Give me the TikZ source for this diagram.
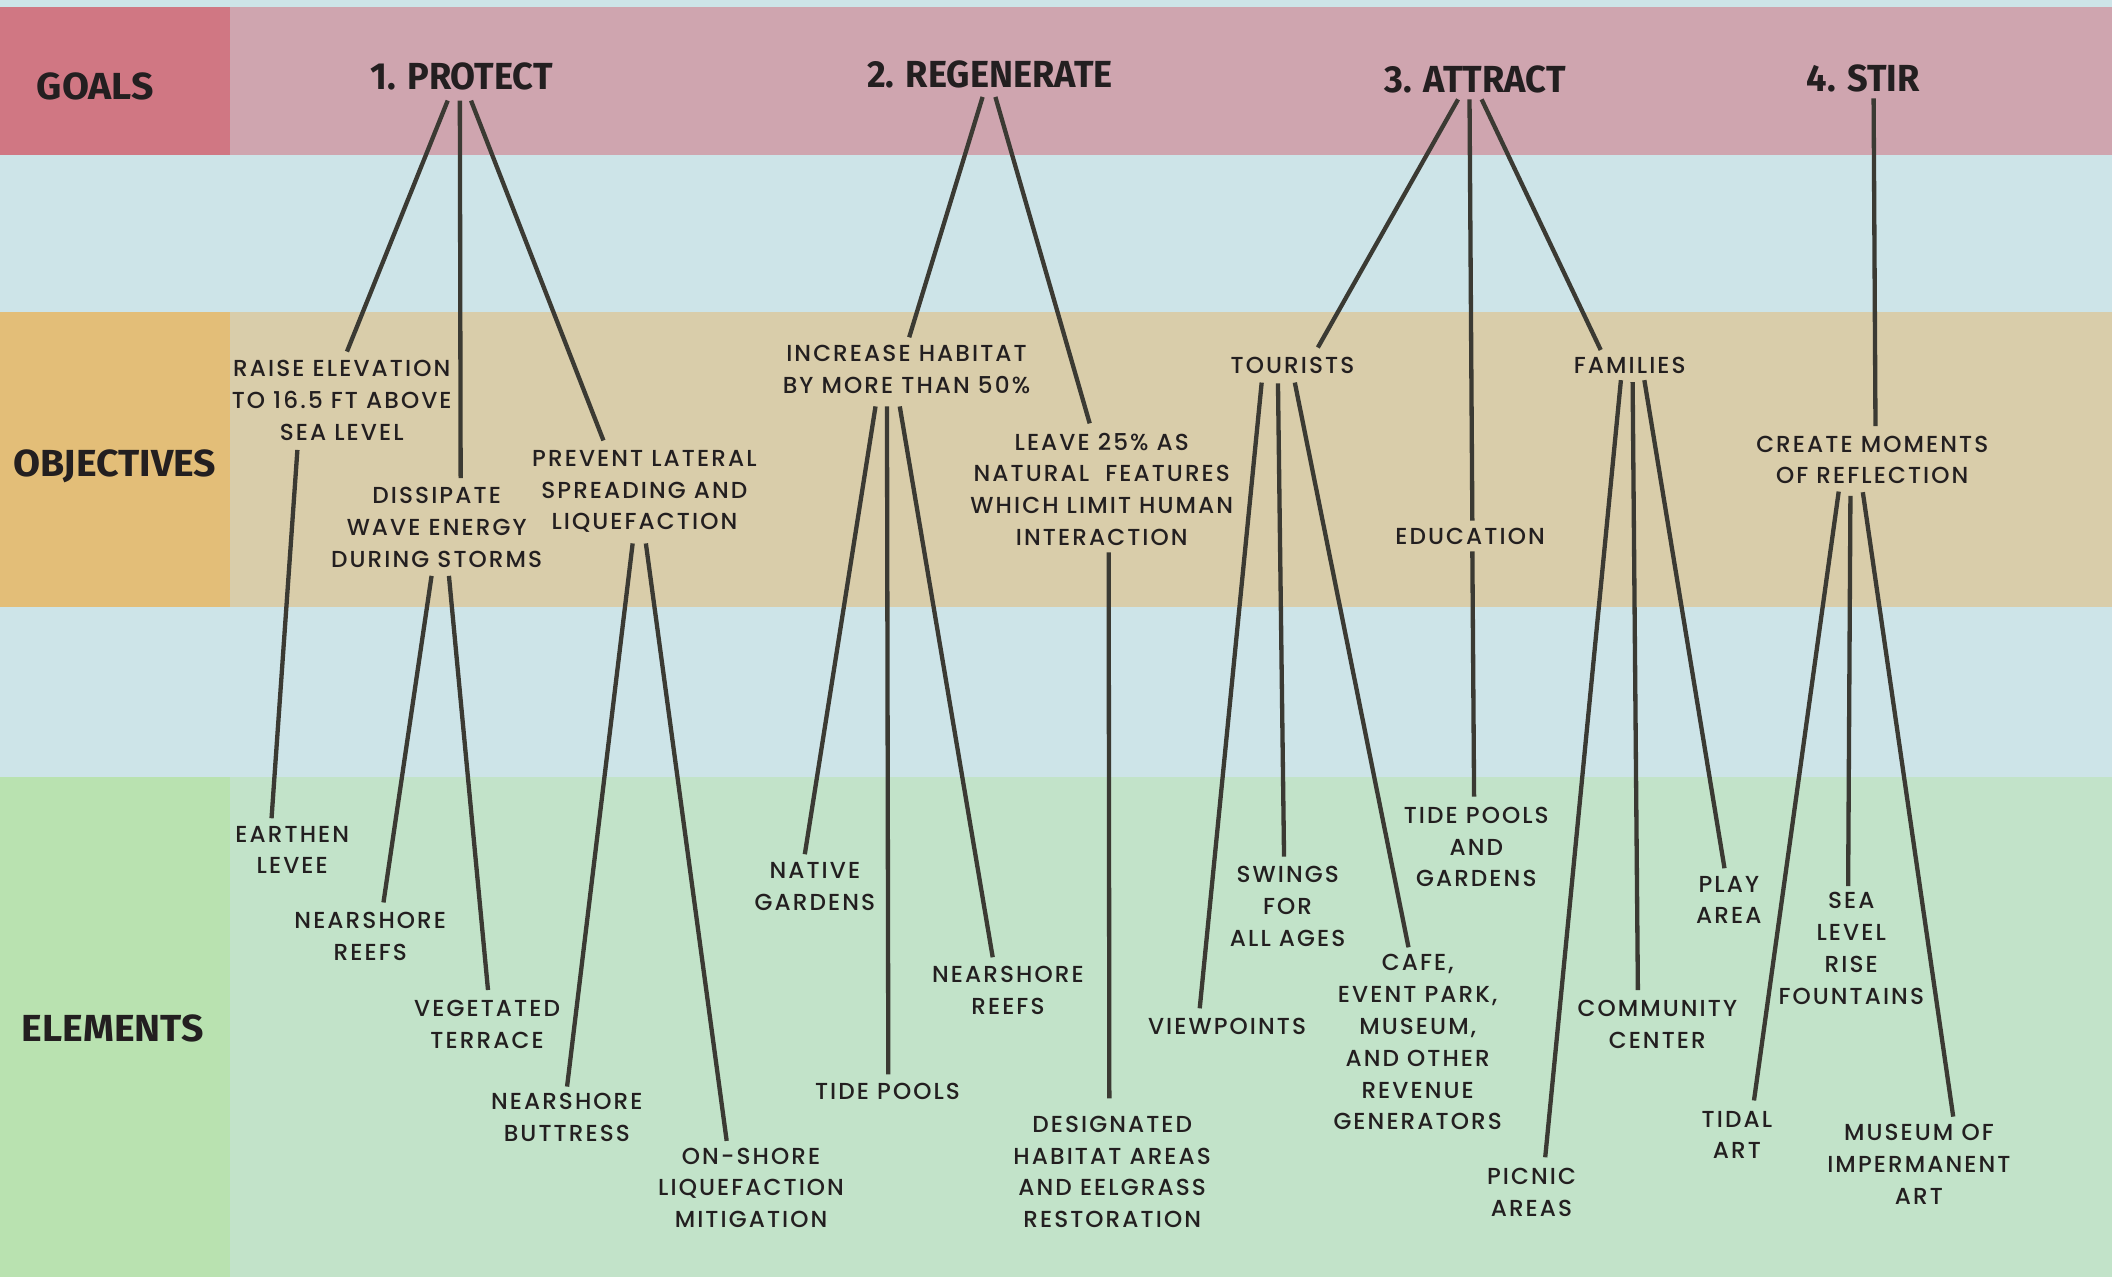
\documentclass[tikz,border=0pt]{standalone}
\usepackage{fontspec}
\usetikzlibrary{calc}
\newfontfamily\bodyfont[LetterSpace=9]{Poppins Medium}
\newfontfamily\headfont[FakeStretch=0.96]{Fira Sans}
\newfontfamily\rowfont[FakeStretch=1.04]{Fira Sans}
\definecolor{sky}{HTML}{CDE4E8}
\definecolor{goalband}{HTML}{CFA5AF}
\definecolor{goalhead}{HTML}{D07783}
\definecolor{objband}{HTML}{D9CDAA}
\definecolor{objhead}{HTML}{E3BE78}
\definecolor{elemband}{HTML}{C2E3C9}
\definecolor{elemhead}{HTML}{B9E2B0}
\definecolor{ink}{HTML}{231F20}
\definecolor{wire}{HTML}{3B3A33}
\tikzset{
  heading/.style={font=\headfont\bfseries\fontsize{28}{30}\selectfont, text=ink, inner sep=0pt, anchor=base},
  rowtitle/.style={font=\rowfont\bfseries\fontsize{28}{30}\selectfont, text=ink, inner sep=0pt, anchor=base},
  item/.style={font=\bodyfont\fontsize{17.2}{23.6}\selectfont, text=ink, align=center, inner sep=0pt, anchor=north},
  link/.style={draw=wire, line width=3.2pt}
}
\begin{document}
\begin{tikzpicture}[x=1pt, y=-1pt]
  % bands
  \fill[sky] (0,0) rectangle (1568,948);
  \useasboundingbox (0,0) rectangle (1568,948);
  \fill[goalband] (171,5.2) rectangle (1568,115.1);
  \fill[goalhead] (0,5.2) rectangle (171,115.1);
  \fill[objband] (171,231.6) rectangle (1568,450.4);
  \fill[objhead] (0,231.6) rectangle (171,450.4);
  \fill[elemband] (171,576.6) rectangle (1568,948);
  \fill[elemhead] (0,576.6) rectangle (171,948);

  % row titles
  \node[rowtitle] (tgoals) at (70.8,74.2) {GOALS};
  \node[rowtitle] (tobj) at (85.2,353.4) {OBJECTIVES};
  \node[rowtitle] (telem) at (83.7,773.3) {ELEMENTS};

  % goals
  \node[heading] (protect) at (342.7,66.8) {1. PROTECT};
  \node[heading] (regen) at (735,64.8) {2. REGENERATE};
  \node[heading] (attract) at (1095.2,68.5) {3. ATTRACT};
  \node[heading] (stir) at (1383.4,68) {4. STIR};

  % objectives
  \node[item] (raise) at (253.7,267.3) {RAISE ELEVATION\\TO 16.5 FT ABOVE\\SEA LEVEL};
  \node[item] (dissipate) at (324.2,361.8) {DISSIPATE\\WAVE ENERGY\\DURING STORMS};
  \node[item] (prevent) at (478.4,334) {PREVENT LATERAL\\SPREADING AND\\LIQUEFACTION};
  \node[item] (increase) at (673,256) {INCREASE HABITAT\\BY MORE THAN 50\%};
  \node[item] (leave) at (818,321.2) {LEAVE 25\% AS\\NATURAL~ FEATURES\\WHICH LIMIT HUMAN\\INTERACTION};
  \node[item] (tourists) at (959.6,264.8) {TOURISTS};
  \node[item] (education) at (1091.4,391.7) {EDUCATION};
  \node[item] (families) at (1210,264.8) {FAMILIES};
  \node[item] (create) at (1390,323.4) {CREATE MOMENTS\\OF REFLECTION};

  % elements
  \node[item] (earthen) at (217,613) {EARTHEN\\LEVEE};
  \node[item] (reefsA) at (274.9,677.3) {NEARSHORE\\REEFS};
  \node[item] (terrace) at (361.6,742.4) {VEGETATED\\TERRACE};
  \node[item] (buttress) at (420.8,811.7) {NEARSHORE\\BUTTRESS};
  \node[item] (onshore) at (557.6,852) {ON-SHORE\\LIQUEFACTION\\MITIGATION};
  \node[item] (native) at (605,640.2) {NATIVE\\GARDENS};
  \node[item] (tidepools) at (658.9,804.2) {TIDE POOLS};
  \node[item] (reefsB) at (748.3,716.9) {NEARSHORE\\REEFS};
  \node[item] (designated) at (825.7,828.3) {DESIGNATED\\HABITAT AREAS\\AND EELGRASS\\RESTORATION};
  \node[item] (viewpoints) at (911,755.5) {VIEWPOINTS};
  \node[item] (swings) at (956,643) {SWINGS\\FOR\\ALL AGES};
  \node[item] (cafe) at (1052.5,708.5) {CAFE,\\EVENT PARK,\\MUSEUM,\\AND OTHER\\REVENUE\\GENERATORS};
  \node[item] (tpgardens) at (1096,598.9) {TIDE POOLS\\AND\\GARDENS};
  \node[item] (picnic) at (1137,867.4) {PICNIC\\AREAS};
  \node[item] (community) at (1230.4,742.4) {COMMUNITY\\CENTER};
  \node[item] (play) at (1283.5,650.1) {PLAY\\AREA};
  \node[item] (sealevel) at (1374.4,662.5) {SEA\\LEVEL\\RISE\\FOUNTAINS};
  \node[item] (tidal) at (1289.5,824.6) {TIDAL\\ART};
  \node[item] (museum) at (1424.6,834.4) {MUSEUM OF\\IMPERMANENT\\ART};

  % goals to objectives
  \draw[link] ($(protect.south)+(-10.3,7.2)$) -- ($(raise.north)+(3.9,-6.3)$);
  \draw[link] ($(protect.south)+(-1.3,7.2)$) -- ($(dissipate.north)+(17.8,-6.8)$);
  \draw[link] ($(protect.south)+(7,7.2)$) -- ($(prevent.north)+(-30.4,-7)$);
  \draw[link] ($(regen.south)+(-5.5,6.5)$) -- ($(increase.north)+(2,-5.6)$);
  \draw[link] ($(regen.south)+(4,6.5)$) -- ($(leave.north)+(-9,-6.9)$);
  \draw[link] ($(attract.south)+(-12.7,4.6)$) -- ($(tourists.north)+(18.8,-6.8)$);
  \draw[link] ($(attract.south)+(-4.2,4.6)$) -- ($(education.north)+(1.7,-5.2)$);
  \draw[link] ($(attract.south)+(4.8,4.6)$) -- ($(families.north)+(-21.6,-5)$);
  \draw[link] ($(stir.south)+(7.6,4.3)$) -- ($(create.north)+(2.4,-7.1)$);

  % objectives to elements
  \draw[link] ($(raise.south)+(-32.9,6.9)$) -- ($(earthen.north)+(-15.4,-5.5)$);
  \draw[link] ($(dissipate.south)+(-3.8,5.9)$) -- ($(reefsA.north)+(9.8,-7.3)$);
  \draw[link] ($(dissipate.south)+(9.1,5.9)$) -- ($(terrace.north)+(0.7,-7.4)$);
  \draw[link] ($(prevent.south)+(-8.7,7.7)$) -- ($(buttress.north)+(0.2,-5)$);
  \draw[link] ($(prevent.south)+(1.1,7.7)$) -- ($(onshore.north)+(-18.1,-5)$);
  \draw[link] ($(increase.south)+(-23,9.4)$) -- ($(native.north)+(-7.5,-6)$);
  \draw[link] ($(increase.south)+(-14.5,9.4)$) -- ($(tidepools.north)+(0.6,-6.6)$);
  \draw[link] ($(increase.south)+(-5,9.4)$) -- ($(reefsB.north)+(-11.3,-6.2)$);
  \draw[link] ($(leave.south)+(5.1,4.8)$) -- ($(designated.north)+(-2.1,-12.9)$);
  \draw[link] ($(tourists.south)+(-22.9,6.6)$) -- ($(viewpoints.north)+(-20.3,-6.9)$);
  \draw[link] ($(tourists.south)+(-10.8,7.2)$) -- ($(swings.north)+(-2.7,-7)$);
  \draw[link] ($(tourists.south)+(1.7,6.6)$) -- ($(cafe.north)+(-6.8,-5.2)$);
  \draw[link] ($(education.south)+(1.7,5.1)$) -- ($(tpgardens.north)+(-1.6,-7.4)$);
  \draw[link] ($(families.south)+(-6.6,4.8)$) -- ($(picnic.north)+(10.2,-8.2)$);
  \draw[link] ($(families.south)+(2.1,6.2)$) -- ($(community.north)+(-14.4,-7.4)$);
  \draw[link] ($(families.south)+(10.8,4.8)$) -- ($(play.north)+(-3.2,-5.5)$);
  \draw[link] ($(create.south)+(-24.9,5.3)$) -- ($(tidal.north)+(12.7,-7.6)$);
  \draw[link] ($(create.south)+(-16.2,8.5)$) -- ($(sealevel.north)+(-2.3,-4.7)$);
  \draw[link] ($(create.south)+(-7,5.8)$) -- ($(museum.north)+(25.5,-5.4)$);
\end{tikzpicture}
\end{document}
